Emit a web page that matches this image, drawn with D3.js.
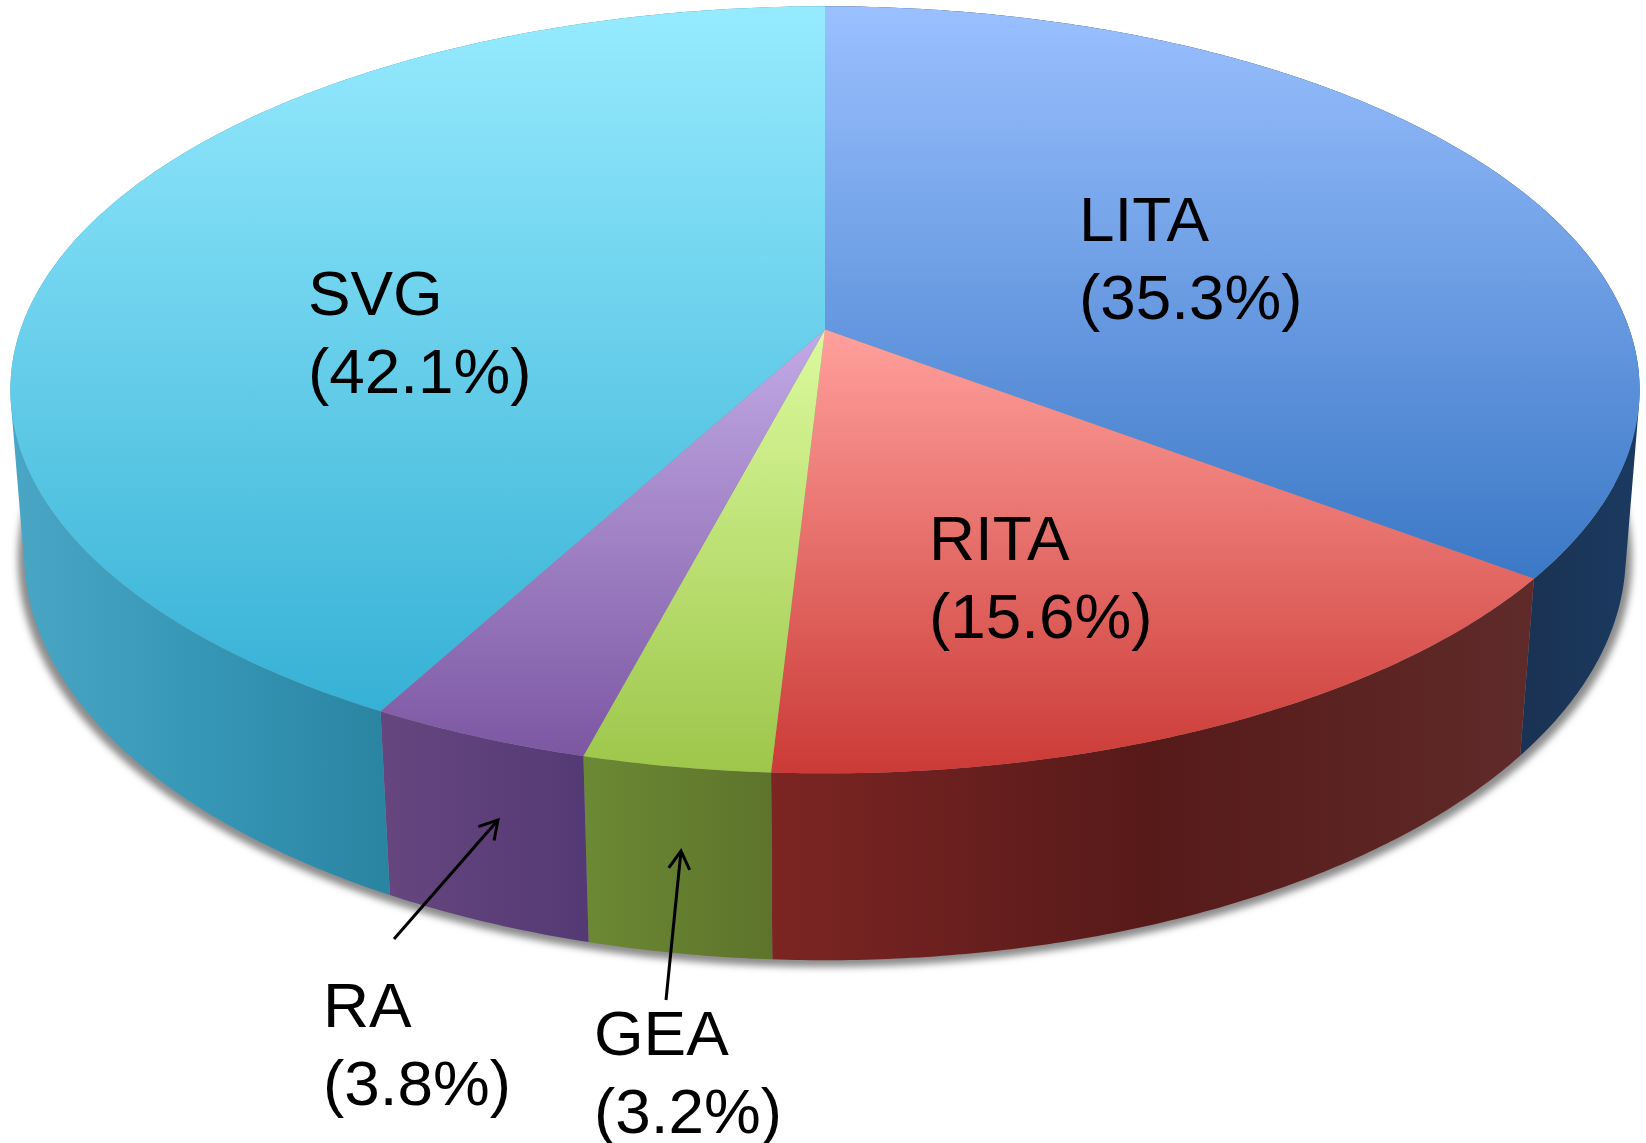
<!DOCTYPE html>
<html>
<head>
<meta charset="utf-8">
<script src="https://cdn.jsdelivr.net/npm/d3@7"></script>
<style>
  html, body { margin: 0; padding: 0; background: #fff; }
  svg { display: block; }
  text { font-family: "Liberation Sans", Arial, sans-serif; font-size: 63.8px; fill: #000; }
</style>
</head>
<body>
<svg id="chart" width="1646" height="1143"></svg>
<script>
// values, clockwise from 12 o'clock
const categories = ['LITA', 'RITA', 'GEA', 'RA', 'SVG'];
const shares = [35.3, 15.6, 3.2, 3.8, 42.1];

const topStart = ['#9ac0ff', '#ffa09c', '#dcfa9e', '#c2aae6', '#97ebff'];
const topEnd = ['#3b78c6', '#cb3a36', '#9dc64a', '#7c57a2', '#36b1d5'];
// side wall colours run left to right over the visible front of each slice
const sideColors = [
  ['#1a3354', '#1b3a60'],
  ['#7c2523', '#561a19', '#5f2b2a'],
  ['#6c8934', '#5d742b'],
  ['#67467f', '#543a74'],
  ['#4aa6c5', '#3797b7', '#2a85a2']
];

// label placement: left edge, first baseline
const labelX = [1079, 929, 594, 323, 308];
const labelY = [241, 560, 1055, 1027, 315];
const lineGap = 78;

const svg = d3.select('#chart');
const defs = svg.append('defs');
const apex = [825, 329.6];

// the top and bottom of the disc are each a circle seen in perspective
function rim(cx, a, cy, b, k) {
  const xs = d3.scaleLinear().domain([-1, 1]).range([cx - a, cx + a]);
  const ys = d3.scaleLinear().domain([-1, 1]).range([cy - b, cy + b]);
  return (angle) => {
    const u = Math.sin(angle);
    const v = -Math.cos(angle);
    const w = 1 - k * v;
    return [xs(u / w), ys(v / w)];
  };
}
const topRim = rim(825, 804.5, apex[1], 374.1, 0.157);
const lowRim = rim(825, 791.5, 492.3, 396.8, 0.152);

const pie = d3.pie().sort(null).value((d) => d);
const arcs = pie(shares);
const line = d3.line();

function sample(a0, a1) {
  const n = Math.max(2, Math.ceil((a1 - a0) * 120));
  return d3.range(n + 1).map((i) => a0 + (a1 - a0) * i / n);
}

// the wall strip folds over at the disc's silhouette, so cut it there and
// give every piece the same winding, otherwise nonzero fill punches a hole
function wallPath(d) {
  const angles = sample(d.startAngle, d.endAngle);
  const pieces = [];
  let current = null;
  let sign = 0;
  for (let i = 0; i < angles.length - 1; i++) {
    const quad = [topRim(angles[i]), topRim(angles[i + 1]), lowRim(angles[i + 1]), lowRim(angles[i])];
    const s = Math.sign(d3.polygonArea(quad));
    if (s !== sign) {
      current = { sign: s, angles: [angles[i]] };
      pieces.push(current);
      sign = s;
    }
    current.angles.push(angles[i + 1]);
  }
  return pieces.map((p) => {
    const as = p.sign < 0 ? p.angles.slice().reverse() : p.angles;
    return line(as.map(topRim).concat(as.slice().reverse().map(lowRim))) + 'Z';
  }).join('');
}

// gradients
arcs.forEach((d, i) => {
  const angles = sample(d.startAngle, d.endAngle);
  const yExt = d3.extent(angles.map(topRim).concat([apex]), (p) => p[1]);
  // only the front of the rim shows a wall
  const front = angles.filter((a) => Math.cos(a) < 0).map(topRim);
  const xExt = d3.extent(front, (p) => p[0]);

  const tg = defs.append('linearGradient')
    .attr('id', `top-${i}`)
    .attr('gradientUnits', 'userSpaceOnUse')
    .attr('x1', 0).attr('x2', 0)
    .attr('y1', yExt[0]).attr('y2', yExt[1]);
  tg.append('stop').attr('offset', 0).attr('stop-color', topStart[i]);
  tg.append('stop').attr('offset', 1).attr('stop-color', topEnd[i]);

  const sg = defs.append('linearGradient')
    .attr('id', `side-${i}`)
    .attr('gradientUnits', 'userSpaceOnUse')
    .attr('y1', 0).attr('y2', 0)
    .attr('x1', xExt[0]).attr('x2', xExt[1]);
  sideColors[i].forEach((c, j) => {
    sg.append('stop')
      .attr('offset', j / (sideColors[i].length - 1))
      .attr('stop-color', c);
  });
});

const blur = defs.append('filter')
  .attr('id', 'shadow-blur')
  .attr('x', '-5%').attr('y', '-5%').attr('width', '110%').attr('height', '110%');
blur.append('feGaussianBlur').attr('stdDeviation', 3.5);

const marker = defs.append('marker')
  .attr('id', 'open-arrow')
  .attr('viewBox', '-22 -12 26 24')
  .attr('markerUnits', 'userSpaceOnUse')
  .attr('markerWidth', 26).attr('markerHeight', 24)
  .attr('orient', 'auto');
marker.append('path')
  .attr('d', 'M-18,-10.5 L0,0 L-18,10.5')
  .attr('fill', 'none')
  .attr('stroke', '#000')
  .attr('stroke-width', 3);

// soft shadow under the lower rim
svg.append('path')
  .attr('d', line(sample(0, 2 * Math.PI).map(lowRim)) + 'Z')
  .attr('fill', '#8c8c8c')
  .attr('filter', 'url(#shadow-blur)')
  .attr('transform', 'translate(825 500) scale(1.008 1.006) translate(-825 -496)');

// side walls first, the top face covers their back half
svg.append('g').selectAll('path')
  .data(arcs)
  .join('path')
  .attr('d', wallPath)
  .attr('fill', (d, i) => `url(#side-${i})`);

// top face
svg.append('g').selectAll('path')
  .data(arcs)
  .join('path')
  .attr('d', (d) => line([apex].concat(sample(d.startAngle, d.endAngle).map(topRim))) + 'Z')
  .attr('fill', (d, i) => `url(#top-${i})`);

// leader arrows for the two small slices
const arrowFrom = [[394, 939], [666, 1000]];
const arrowTo = [[498, 820], [681, 851]];
svg.append('g').selectAll('line')
  .data(arrowFrom)
  .join('line')
  .attr('x1', (d) => d[0])
  .attr('y1', (d) => d[1])
  .attr('x2', (d, i) => arrowTo[i][0])
  .attr('y2', (d, i) => arrowTo[i][1])
  .attr('stroke', '#000')
  .attr('stroke-width', 3)
  .attr('marker-end', 'url(#open-arrow)');

// labels
const labels = svg.append('g').selectAll('text')
  .data(categories)
  .join('text')
  .attr('x', (d, i) => labelX[i])
  .attr('y', (d, i) => labelY[i]);
labels.append('tspan')
  .attr('x', (d, i) => labelX[i])
  .text((d) => d);
labels.append('tspan')
  .attr('x', (d, i) => labelX[i])
  .attr('dy', lineGap)
  .text((d, i) => `(${shares[i].toFixed(1)}%)`);
</script>
</body>
</html>
